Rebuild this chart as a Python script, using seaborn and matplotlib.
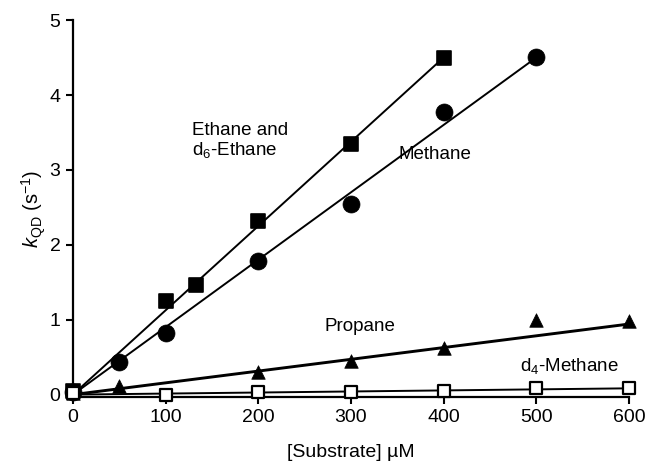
import numpy as np
import pandas as pd
import matplotlib
matplotlib.use("Agg")
import matplotlib.pyplot as plt
import seaborn as sns

# ---- data ----
ethane_x = [0, 100, 133, 200, 300, 400]
ethane_y = [0.05, 1.25, 1.47, 2.32, 3.34, 4.50]
methane_x = [0, 50, 100, 200, 300, 400, 500]
methane_y = [0.03, 0.44, 0.82, 1.78, 2.55, 3.77, 4.51]
propane_x = [0, 50, 200, 300, 400, 500, 600]
propane_y = [0.02, 0.12, 0.30, 0.45, 0.62, 1.00, 0.98]
d4_x = [0, 100, 200, 300, 400, 500, 600]
d4_y = [0.02, -0.01, 0.03, 0.04, 0.05, 0.09, 0.09]

# fitted slopes (s^-1 per uM) and fit ranges
fit_slopes = {"ethane": 0.01125, "methane": 0.0090, "propane": 0.00157, "d4": 0.00014}
fit_ends = {"ethane": 400, "methane": 500, "propane": 600, "d4": 600}

x_ticks = [0, 100, 200, 300, 400, 500, 600]
y_ticks = [0, 1, 2, 3, 4, 5]

sns.set_style("ticks")
plt.rcParams["font.family"] = ["Liberation Sans", "DejaVu Sans"]
plt.rcParams["mathtext.fontset"] = "custom"
plt.rcParams["mathtext.rm"] = "Liberation Sans"
plt.rcParams["mathtext.it"] = "Liberation Sans:italic"
plt.rcParams["text.color"] = "black"
plt.rcParams["axes.labelcolor"] = "black"

fig = plt.figure(figsize=(6.45, 4.68), dpi=100)
ax = fig.add_axes([0.113, 0.152, 0.862, 0.805])

# fit lines
for key, lw in [("ethane", 1.4), ("methane", 1.4), ("propane", 2.1), ("d4", 1.4)]:
    xs = np.array([0, fit_ends[key]])
    df = pd.DataFrame({"x": xs, "y": fit_slopes[key] * xs})
    sns.lineplot(data=df, x="x", y="y", ax=ax, color="black", lw=lw, clip_on=False, zorder=2)

# data points
kw = dict(ax=ax, color="black", clip_on=False, zorder=3, legend=False)
sns.scatterplot(x=ethane_x, y=ethane_y, marker="s", s=115, edgecolor="black", linewidth=1.2, **kw)
sns.scatterplot(x=methane_x, y=methane_y, marker="o", s=150, edgecolor="black", linewidth=0.5, **kw)
sns.scatterplot(x=propane_x, y=propane_y, marker="^", s=95, edgecolor="black", linewidth=0.5, **kw)
sns.scatterplot(x=d4_x, y=d4_y, marker="s", s=80, facecolor="white", edgecolor="black", linewidth=1.6,
                ax=ax, clip_on=False, zorder=3, legend=False)

ax.set_xlim(0, 600)
ax.set_ylim(-0.03, 5)
ax.set_xticks(x_ticks)
ax.set_yticks(y_ticks)
ax.tick_params(direction="out", length=5, width=1.5, labelsize=14, colors="black", pad=4)
for s in ["left", "bottom"]:
    ax.spines[s].set_linewidth(1.6)
    ax.spines[s].set_color("black")
sns.despine(ax=ax)

ax.set_xlabel("[Substrate] µM", fontsize=14, labelpad=13, color="black")
ax.set_ylabel(r"$k_{\mathrm{QD}}$ (s$^{-1}$)", fontsize=14.5, labelpad=1, color="black")

tk = dict(fontsize=13.5, color="black")
ax.text(129, 3.53, "Ethane and", va="center", ha="left", **tk)
ax.text(129, 3.26, r"d$_6$-Ethane", va="center", ha="left", **tk)
ax.text(351, 3.2, "Methane", va="center", ha="left", **tk)
ax.text(272, 0.91, "Propane", va="center", ha="left", **tk)
ax.text(482, 0.38, r"d$_4$-Methane", va="center", ha="left", **tk)

fig.savefig("out.png", dpi=100)
